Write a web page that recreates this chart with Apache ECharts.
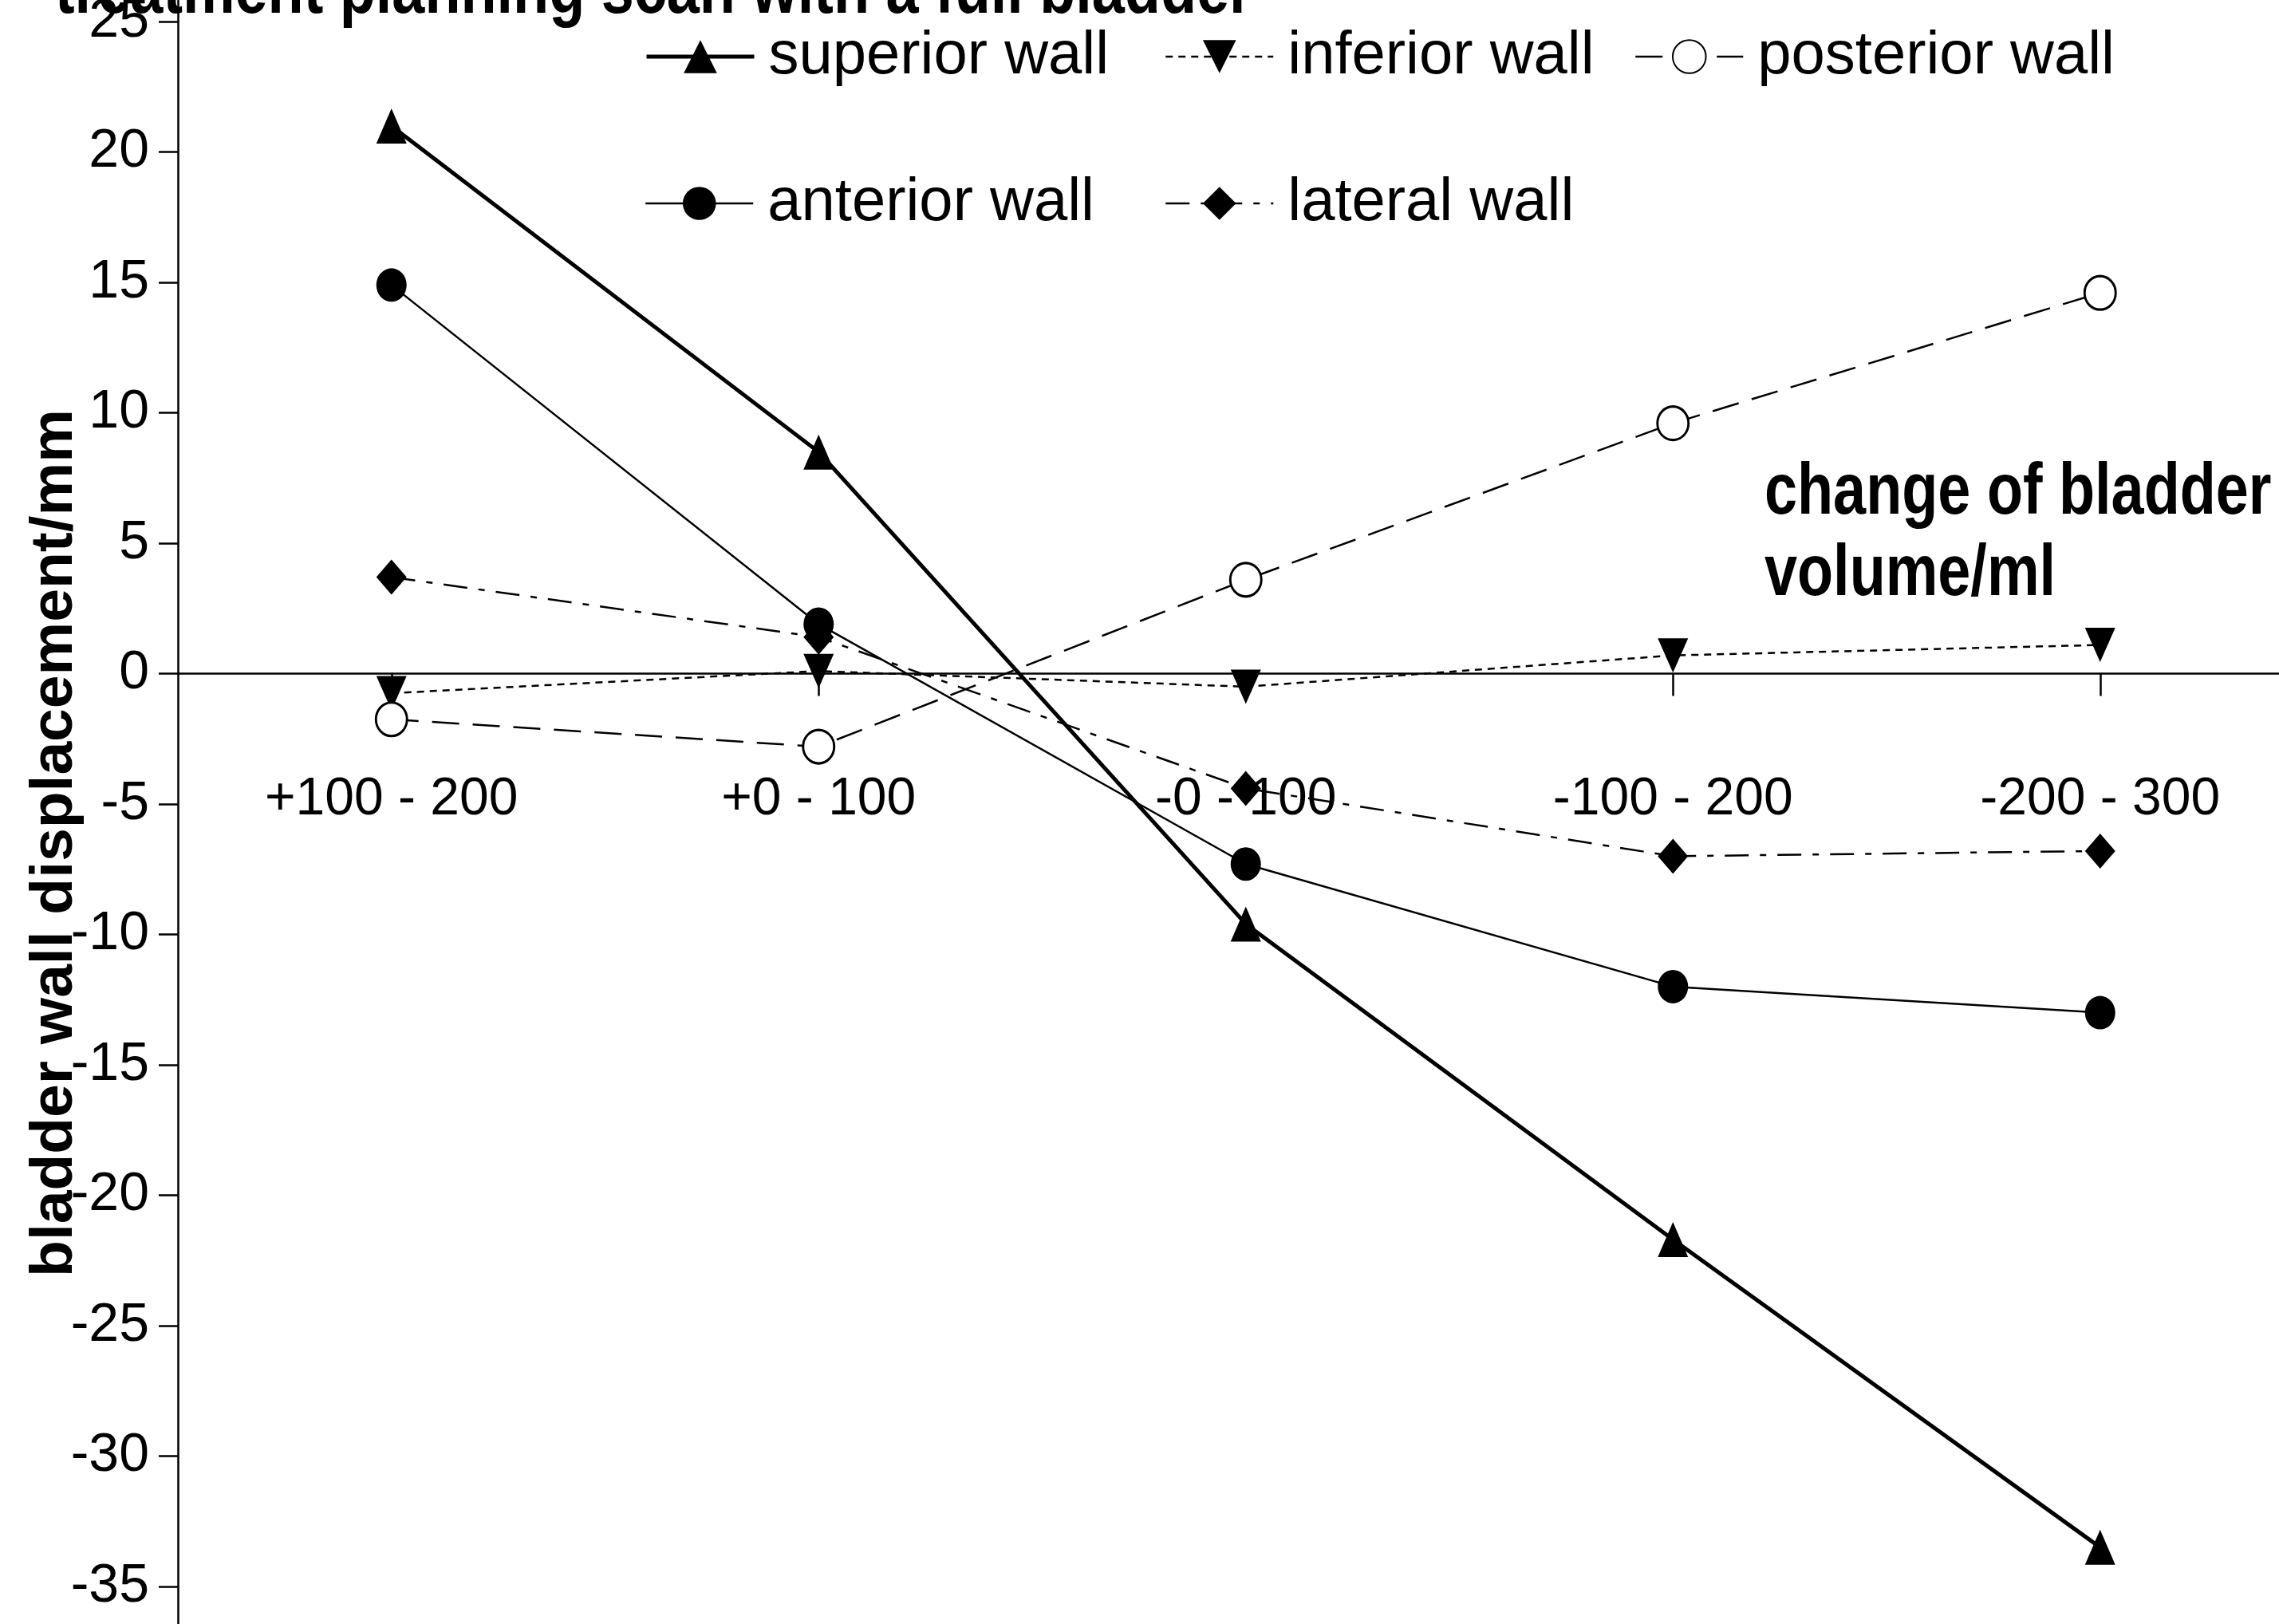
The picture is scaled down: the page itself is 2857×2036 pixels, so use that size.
<!DOCTYPE html>
<html>
<head>
<meta charset="utf-8">
<script src="https://cdn.jsdelivr.net/npm/echarts@6/dist/echarts.min.js"></script>
<style>
  html, body { margin: 0; padding: 0; background: #fff; }
  #chart { width: 2857px; height: 2036px; }
</style>
</head>
<body>
<div id="chart"></div>
<script>
// bladder wall displacement per change of bladder volume
const categories = ['+100 - 200', '+0 - 100', '-0 - 100', '-100 - 200', '-200 - 300'];
const superiorWall = [21.0, 8.5, -9.6, -21.7, -33.5];
const inferiorWall = [-0.75, 0.1, -0.5, 0.7, 1.1];
const posteriorWall = [-1.75, -2.8, 3.6, 9.6, 14.6];
const anteriorWall = [14.9, 1.9, -7.3, -12.0, -13.0];
const lateralWall = [3.7, 1.4, -4.4, -7.0, -6.8];
const yTicks = [-35, -30, -25, -20, -15, -10, -5, 0, 5, 10, 15, 20, 25];

const Y_MIN = -36.44, Y_MAX = 25.83;
const FONT = "'Liberation Sans', Arial, sans-serif";
const INK = '#000';

const el = document.getElementById('chart');
const chart = echarts.init(el);

// the category axis sits on y = 0, labels included (grid spans the full height)
const zeroOffset = -(el.clientHeight * (0 - Y_MIN) / (Y_MAX - Y_MIN));

function legendAt(name, left, top, lineWidth) {
    return {
        data: [name],
        left: left, top: top,
        padding: 0,
        itemWidth: 135, itemHeight: 52,
        lineStyle: { width: lineWidth },
        textStyle: { fontFamily: FONT, fontSize: 76, lineHeight: 52, color: INK, padding: [0, 0, 0, 13] }
    };
}

function lineSeries(name, data, symbol, size, lineStyle, itemStyle) {
    return {
        name: name,
        type: 'line',
        data: data,
        symbol: symbol,
        symbolSize: size,
        showSymbol: true,
        lineStyle: Object.assign({ color: INK, width: 2.5 }, lineStyle),
        itemStyle: Object.assign({ color: INK, opacity: 1 }, itemStyle),
        emphasis: { disabled: true }
    };
}

// narrow bold headings: Arial Narrow is not installed, so squeeze the bold face
function narrowText(text, x, y, lineHeight) {
    return {
        type: 'text',
        x: x, y: y,
        scaleX: 0.82,
        silent: true,
        style: {
            text: text,
            font: 'bold 90px ' + FONT,
            fill: INK,
            align: 'left',
            verticalAlign: 'top',
            lineHeight: lineHeight
        }
    };
}

const option = {
    animation: false,
    backgroundColor: '#fff',
    graphic: [
        narrowText('treatment planning scan with a full bladder', 69, -54, 90),
        narrowText('change of bladder\nvolume/ml', 2212, 568, 102)
    ],
    legend: [
        legendAt('superior wall', 808, 33, 5),
        legendAt('inferior wall', 1460, 33, 2.5),
        legendAt('posterior wall', 2049, 33, 2.5),
        legendAt('anterior wall', 808, 217, 2.5),
        legendAt('lateral wall', 1460, 217, 2.5)
    ],
    grid: { left: 223, right: -43.5, top: 0, bottom: 0, containLabel: false, outerBoundsMode: 'none' },
    xAxis: {
        type: 'category',
        data: categories,
        position: 'bottom',
        offset: zeroOffset,
        boundaryGap: true,
        axisLine: { show: true, onZero: false, lineStyle: { color: INK, width: 2.5 } },
        axisTick: { show: true, alignWithLabel: true, length: 28, lineStyle: { color: INK, width: 2.5 } },
        axisLabel: { interval: 0, margin: 125, fontFamily: FONT, fontSize: 66, color: INK },
        splitLine: { show: false }
    },
    yAxis: {
        type: 'value',
        min: Y_MIN, max: Y_MAX,
        name: 'bladder wall displacement/mm',
        nameLocation: 'middle',
        nameRotate: 90,
        nameGap: 116,
        nameMoveOverlap: false,
        nameTextStyle: { fontFamily: FONT, fontSize: 75, fontWeight: 'bold', color: INK, lineHeight: 75, padding: [0, 78, 0, 0] },
        axisLine: { show: true, onZero: false, lineStyle: { color: INK, width: 2.5 } },
        axisTick: { show: true, length: 24, customValues: yTicks, lineStyle: { color: INK, width: 2.5 } },
        axisLabel: { margin: 36, customValues: yTicks, fontFamily: FONT, fontSize: 68, color: INK },
        splitLine: { show: false }
    },
    series: [
        lineSeries('superior wall', superiorWall, 'triangle', [38, 44], { width: 5 }),
        lineSeries('inferior wall', inferiorWall, 'path://M0,0 L10,0 L5,11 Z', [38, 43], { type: [9, 7] }),
        lineSeries('posterior wall', posteriorWall, 'circle', [39, 42], { type: [34, 17] },
            { color: '#fff', borderColor: INK, borderWidth: 3 }),
        lineSeries('anterior wall', anteriorWall, 'circle', [38, 42], {}),
        lineSeries('lateral wall', lateralWall, 'diamond', [38, 44], { type: [30, 14, 8, 14] })
    ]
};

chart.setOption(option);
</script>
</body>
</html>
